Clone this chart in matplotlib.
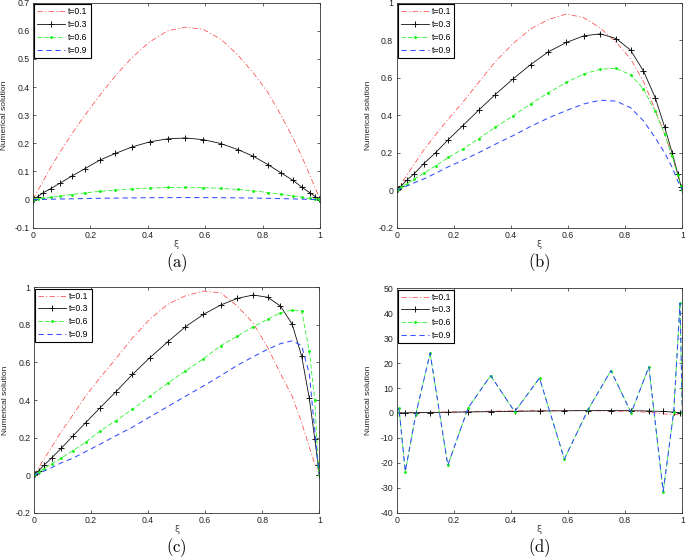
import matplotlib
matplotlib.use("Agg")
import matplotlib.pyplot as plt
from matplotlib.ticker import FixedLocator

plt.rcParams['font.family'] = ['Liberation Sans', 'DejaVu Sans']
plt.rcParams['mathtext.fontset'] = 'cm'

# ---- data ----
labels = ['t=0.1', 't=0.3', 't=0.6', 't=0.9']

xi26 = [0, 0.004, 0.016, 0.035, 0.062, 0.095, 0.136, 0.181, 0.232, 0.287, 0.345, 0.406, 0.469,
        0.531, 0.594, 0.655, 0.713, 0.768, 0.819, 0.864, 0.905, 0.938, 0.965, 0.984, 0.996, 1.0]
xi19 = [0, 0.008, 0.030, 0.067, 0.117, 0.179, 0.250, 0.329, 0.413, 0.5,
        0.587, 0.671, 0.750, 0.821, 0.883, 0.933, 0.970, 0.992, 1.0]

# panel (a)
a_t01 = [0, 0.008, 0.03, 0.065, 0.115, 0.17, 0.235, 0.30, 0.37, 0.44, 0.505, 0.56, 0.60,
         0.613, 0.605, 0.57, 0.515, 0.45, 0.38, 0.30, 0.22, 0.15, 0.085, 0.04, 0.01, 0]
a_t03 = [0, 0.002, 0.01, 0.024, 0.039, 0.059, 0.084, 0.11, 0.14, 0.164, 0.187, 0.205, 0.216,
         0.219, 0.213, 0.199, 0.178, 0.154, 0.124, 0.095, 0.069, 0.043, 0.024, 0.01, 0.002, 0]
a_t06 = [0, 0.0005, 0.002, 0.004, 0.008, 0.012, 0.018, 0.024, 0.029, 0.034, 0.038, 0.041, 0.043,
         0.043, 0.042, 0.040, 0.036, 0.031, 0.025, 0.019, 0.013, 0.008, 0.004, 0.002, 0.0005, 0]
a_t09 = [0, 0.0001, 0.0003, 0.0007, 0.0013, 0.002, 0.0028, 0.0036, 0.0045, 0.0053, 0.006, 0.0066,
         0.007, 0.0071, 0.007, 0.0067, 0.0061, 0.0053, 0.0044, 0.0034, 0.0024, 0.0015, 0.0008,
         0.0004, 0.0001, 0]

# panel (b)
b_t01 = [0, 0.008, 0.035, 0.08, 0.14, 0.215, 0.295, 0.38, 0.47, 0.575, 0.685, 0.78, 0.86,
         0.91, 0.94, 0.92, 0.865, 0.79, 0.70, 0.58, 0.43, 0.30, 0.18, 0.08, 0.02, 0]
b_t03 = [0, 0.006, 0.023, 0.053, 0.089, 0.142, 0.20, 0.27, 0.345, 0.427, 0.51, 0.592, 0.67,
         0.738, 0.788, 0.823, 0.834, 0.809, 0.747, 0.636, 0.494, 0.338, 0.196, 0.089, 0.018, 0]
b_t06 = [0, 0.004, 0.015, 0.035, 0.06, 0.09, 0.13, 0.175, 0.22, 0.275, 0.335, 0.395, 0.46,
         0.52, 0.575, 0.62, 0.645, 0.65, 0.615, 0.54, 0.42, 0.30, 0.18, 0.08, 0.02, 0]
b_t09 = [0, 0.003, 0.01, 0.022, 0.04, 0.06, 0.09, 0.125, 0.16, 0.20, 0.245, 0.29, 0.34,
         0.385, 0.425, 0.46, 0.48, 0.475, 0.44, 0.37, 0.28, 0.20, 0.12, 0.05, 0.012, 0]

# panel (c)
c_t01 = [0, 0.01, 0.04, 0.085, 0.15, 0.23, 0.32, 0.42, 0.52, 0.62, 0.73, 0.83, 0.91,
         0.955, 0.98, 0.97, 0.90, 0.81, 0.68, 0.54, 0.42, 0.28, 0.15, 0.06, 0.03, 0.04]
c_t03 = [0, 0.006, 0.023, 0.053, 0.092, 0.142, 0.208, 0.279, 0.359, 0.444, 0.536, 0.625, 0.71,
         0.79, 0.856, 0.906, 0.941, 0.959, 0.947, 0.90, 0.803, 0.634, 0.409, 0.195, 0.053, 0]
c_t06 = [0, 0.004, 0.015, 0.035, 0.06, 0.09, 0.13, 0.175, 0.235, 0.29, 0.35, 0.42, 0.49,
         0.555, 0.62, 0.69, 0.74, 0.79, 0.83, 0.865, 0.878, 0.875, 0.66, 0.40, 0.05, 0]
c_t09 = [0, 0.003, 0.01, 0.022, 0.04, 0.065, 0.09, 0.125, 0.165, 0.21, 0.255, 0.31, 0.365,
         0.42, 0.475, 0.53, 0.585, 0.63, 0.67, 0.70, 0.715, 0.69, 0.54, 0.24, 0.05, 0]

# panel (d)
d_t01 = [0, 0.02, 0.07, 0.16, 0.28, 0.42, 0.58, 0.73, 0.86, 0.95, 0.98, 0.91, 0.8, 0.6,
         0.3, -0.3, -0.8, -0.3, 0.0]
d_t03 = [0, 0.012, 0.045, 0.10, 0.18, 0.28, 0.40, 0.52, 0.65, 0.77, 0.87, 0.94, 0.96, 0.92,
         0.80, 0.60, 0.35, 0.10, 0]
d_t06 = [0, 2, -23.5, -0.5, 24, -21, 2, 15, 0.5, 14, -18.5, 1.5, 17, 0, 18.5, -31.5, 0.5, 44, 0]
d_t09 = [0, 2, -23.5, -0.5, 24, -21, 2, 15, 0.5, 14, -18.5, 1.5, 17, 0, 18.5, -31.5, 0.5, 44, 0]

panels = [
    dict(x=xi26, ys=[a_t01, a_t03, a_t06, a_t09], ylim=(-0.1, 0.7),
         yticks=[-0.1, 0, 0.1, 0.2, 0.3, 0.4, 0.5, 0.6, 0.7],
         yticklabels=['-0.1', '0', '0.1', '0.2', '0.3', '0.4', '0.5', '0.6', '0.7'], cap='a'),
    dict(x=xi26, ys=[b_t01, b_t03, b_t06, b_t09], ylim=(-0.2, 1.0),
         yticks=[-0.2, 0, 0.2, 0.4, 0.6, 0.8, 1.0],
         yticklabels=['-0.2', '0', '0.2', '0.4', '0.6', '0.8', '1'], cap='b'),
    dict(x=xi26, ys=[c_t01, c_t03, c_t06, c_t09], ylim=(-0.2, 1.0),
         yticks=[-0.2, 0, 0.2, 0.4, 0.6, 0.8, 1.0],
         yticklabels=['-0.2', '0', '0.2', '0.4', '0.6', '0.8', '1'], cap='c'),
    dict(x=xi19, ys=[d_t01, d_t03, d_t06, d_t09], ylim=(-40, 50),
         yticks=[-40, -30, -20, -10, 0, 10, 20, 30, 40, 50],
         yticklabels=['-40', '-30', '-20', '-10', '0', '10', '20', '30', '40', '50'], cap='d'),
]
xticks = [0, 0.2, 0.4, 0.6, 0.8, 1.0]
xticklabels = ['0', '0.2', '0.4', '0.6', '0.8', '1']

# axes rectangles in figure fractions
rects = [
    (33 / 685, 1 - 227.7 / 560, 287 / 685, 225 / 560),
    (396.7 / 685, 1 - 227.7 / 560, 285.6 / 685, 225 / 560),
    (34 / 685, 1 - 512.7 / 560, 285.3 / 685, 225.4 / 560),
    (396.7 / 685, 1 - 512.7 / 560, 285.6 / 685, 224.4 / 560),
]

styles = [
    dict(color=(1, 0.15, 0.15), linestyle=(0, (7, 3, 1.5, 3)), linewidth=0.55, alpha=0.85),
    dict(color='#111111', linestyle='-', linewidth=0.6, marker='+', markersize=5,
         markeredgewidth=0.7),
    dict(color=(0.1, 0.95, 0.1), linestyle=(0, (6, 3)), linewidth=0.55, marker='.',
         markersize=2.2),
    dict(color=(0.2, 0.3, 1), linestyle=(0, (5, 3.6)), linewidth=0.75),
]

fig = plt.figure(figsize=(6.85, 5.6), dpi=100)
for p, r in zip(panels, rects):
    ax = fig.add_axes(r)
    for y, st, lab in zip(p['ys'], styles, labels):
        ax.plot(p['x'], y, label=lab, **st)
    ax.set_xlim(0, 1)
    ax.set_ylim(*p['ylim'])
    ax.xaxis.set_major_locator(FixedLocator(xticks))
    ax.set_xticklabels(xticklabels)
    ax.yaxis.set_major_locator(FixedLocator(p['yticks']))
    ax.set_yticklabels(p['yticklabels'])
    ax.tick_params(direction='in', length=2.5, width=0.5, top=True, right=True,
                   labelsize=6.3, pad=2.5, colors='#222222')
    for s in ax.spines.values():
        s.set_linewidth(0.6)
        s.set_color('#333333')
    ax.set_ylabel('Numerical solution', fontsize=6, color='#222222')
    ax.yaxis.set_label_coords(-0.088, 0.5)
    ax.set_xlabel('ξ', fontsize=6.5, family=['DejaVu Sans'], color='#444444')
    ax.xaxis.set_label_coords(0.5, -0.055)
    ax.text(0.5, -0.157, r'$(\mathrm{' + p['cap'] + r'})$', transform=ax.transAxes,
            ha='center', va='center', fontsize=12)
    leg = ax.legend(loc='upper left', fontsize=6.2, fancybox=False, framealpha=1,
                    edgecolor='black', borderaxespad=0.15, handlelength=3.2,
                    handletextpad=0.4, labelspacing=0.45, borderpad=0.35)
    leg.get_frame().set_linewidth(0.8)

fig.savefig('out.png', dpi=100)
